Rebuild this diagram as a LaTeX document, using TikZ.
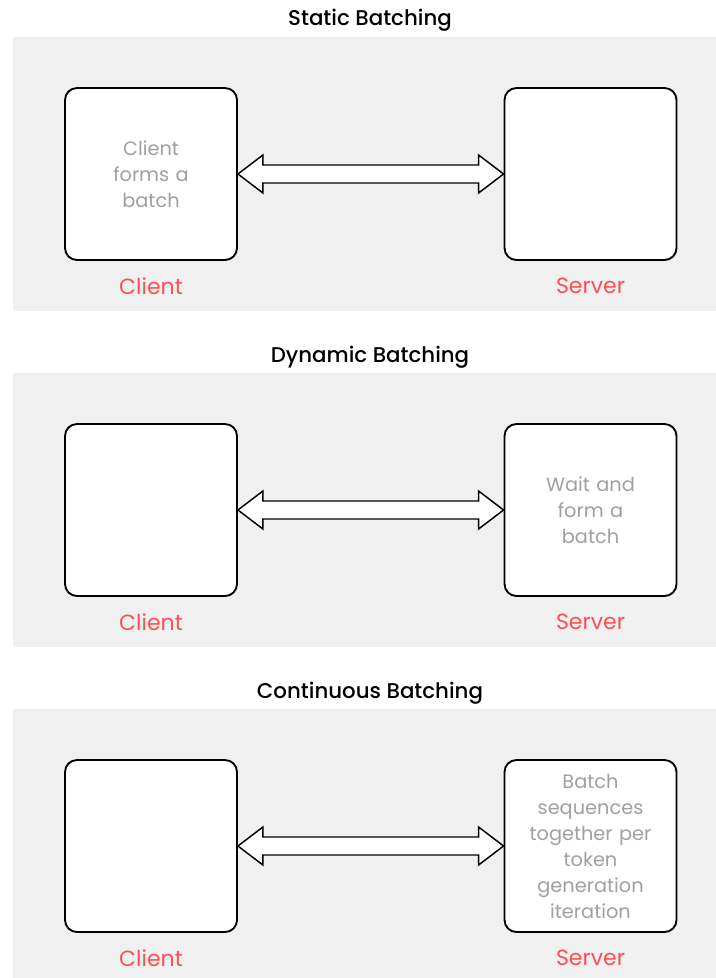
\documentclass[tikz,border=0pt]{standalone}
\usepackage{fontspec}
\setmainfont{Poppins}
\newfontfamily\titlefont{Poppins Medium}
\usetikzlibrary{calc}

\definecolor{panelgray}{RGB}{240,240,240}
\definecolor{notegray}{RGB}{160,160,160}
\definecolor{labelred}{RGB}{250,82,82}

\tikzset{
  panel/.style={fill=panelgray,draw=none,rounded corners=2pt},
  boxnode/.style={draw=black,fill=white,line width=1.4pt,rounded corners=9pt,
    minimum width=129pt,minimum height=129pt,inner sep=0pt,
    text=notegray,align=center,text width=110pt,
    font=\fontsize{14.5}{19.5}\selectfont},
  rolelabel/.style={text=labelred,font=\fontsize{16.5}{20}\selectfont,inner sep=0pt},
  paneltitle/.style={text=black,font=\titlefont\fontsize{16}{20}\selectfont,inner sep=0pt},
  fatarrow/.style={draw=black,fill=white,line width=1.1pt,line join=miter}
}

\begin{document}
\begin{tikzpicture}[x=0.75pt,y=0.75pt,yscale=-1,xscale=1]
\useasboundingbox (0,0) rectangle (716,978);

% Static batching
\fill [panel] (13,37) rectangle (720,311);
\node [paneltitle] (t1) at (370,20) {Static Batching};
\node [boxnode] (c1) at (151,174) {Client\\forms a\\batch};
\node [boxnode] (s1) at (590.5,174) {};
\node [rolelabel] (lc1) at (151,286) {Client};
\node [rolelabel] (ls1) at (590.5,286) {Server};
\draw [fatarrow] (c1.east) -- ($(c1.east)+(25,-19)$) -- ($(c1.east)+(25,-9)$)
  -- ($(s1.west)+(-25,-9)$) -- ($(s1.west)+(-25,-19)$) -- (s1.west)
  -- ($(s1.west)+(-25,19)$) -- ($(s1.west)+(-25,9)$) -- ($(c1.east)+(25,9)$)
  -- ($(c1.east)+(25,19)$) -- cycle;

% Dynamic batching
\fill [panel] (13,373) rectangle (720,647);
\node [paneltitle] (t2) at (370,357) {Dynamic Batching};
\node [boxnode] (c2) at (151,510) {};
\node [boxnode] (s2) at (590.5,510) {Wait and\\form a\\batch};
\node [rolelabel] (lc2) at (151,622) {Client};
\node [rolelabel] (ls2) at (590.5,622) {Server};
\draw [fatarrow] (c2.east) -- ($(c2.east)+(25,-19)$) -- ($(c2.east)+(25,-9)$)
  -- ($(s2.west)+(-25,-9)$) -- ($(s2.west)+(-25,-19)$) -- (s2.west)
  -- ($(s2.west)+(-25,19)$) -- ($(s2.west)+(-25,9)$) -- ($(c2.east)+(25,9)$)
  -- ($(c2.east)+(25,19)$) -- cycle;

% Continuous batching
\fill [panel] (13,709) rectangle (720,990);
\node [paneltitle] (t3) at (370,693) {Continuous Batching};
\node [boxnode] (c3) at (151,846) {};
\node [boxnode] (s3) at (590.5,846) {Batch\\sequences\\together per\\token\\generation\\iteration};
\node [rolelabel] (lc3) at (151,958) {Client};
\node [rolelabel] (ls3) at (590.5,958) {Server};
\draw [fatarrow] (c3.east) -- ($(c3.east)+(25,-19)$) -- ($(c3.east)+(25,-9)$)
  -- ($(s3.west)+(-25,-9)$) -- ($(s3.west)+(-25,-19)$) -- (s3.west)
  -- ($(s3.west)+(-25,19)$) -- ($(s3.west)+(-25,9)$) -- ($(c3.east)+(25,9)$)
  -- ($(c3.east)+(25,19)$) -- cycle;

\end{tikzpicture}
\end{document}
